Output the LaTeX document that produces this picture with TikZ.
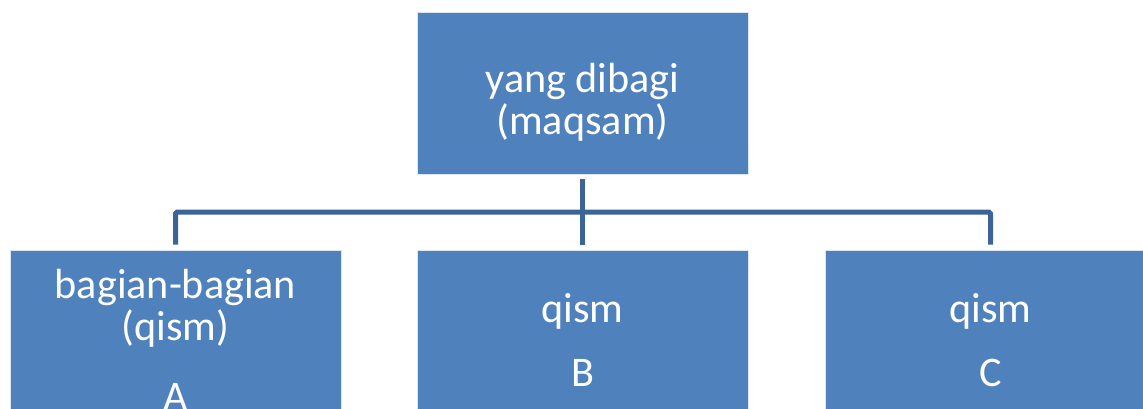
\documentclass[tikz,border=0pt]{standalone}
\usepackage{fontspec}
\setmainfont{Carlito}
\usepackage{tikz}
\usetikzlibrary{positioning,calc}
\definecolor{boxFill}{RGB}{79,129,189}
\definecolor{connCol}{RGB}{60,100,150}

\begin{document}
\begin{tikzpicture}[
  x=0.02cm, y=-0.02cm,
  every node/.style={font=\fontsize{24}{23.9}\selectfont},
  partbox/.style={rectangle, fill=boxFill, draw=white!80!boxFill, line width=0.4pt,
    minimum width=6.62cm, text=white, align=center, inner sep=0pt},
  topbox/.style={partbox, minimum height=3.24cm},
  lowbox/.style={partbox, minimum height=3.6cm},
  connline/.style={line width=0.1cm, color=connCol, rounded corners=1pt,
    shorten <=0.1cm, shorten >=0.1cm},
]
\path[use as bounding box, clip] (0,0) rectangle (1143,409);
% top of the tree
\node[topbox] (whole) at (582.5, 93) {\rule{0pt}{0.94cm}yang dibagi\\(maqsam)};
% the three parts
\node[lowbox] (partA) at (175.5, 340) {bagian-bagian\\(qism)\\[0.56cm]A};
\node[lowbox] (partB) at (582.5, 340) {qism\\[0.44cm]B};
\node[lowbox] (partC) at (990.5, 340) {qism\\[0.44cm]C};
% connectors
\coordinate (hub) at (582.5, 212);
\draw[connline] (whole.south) -- (partB.north);
\draw[connline] (partA.north) |- (hub) -| (partC.north);
\end{tikzpicture}
\end{document}
